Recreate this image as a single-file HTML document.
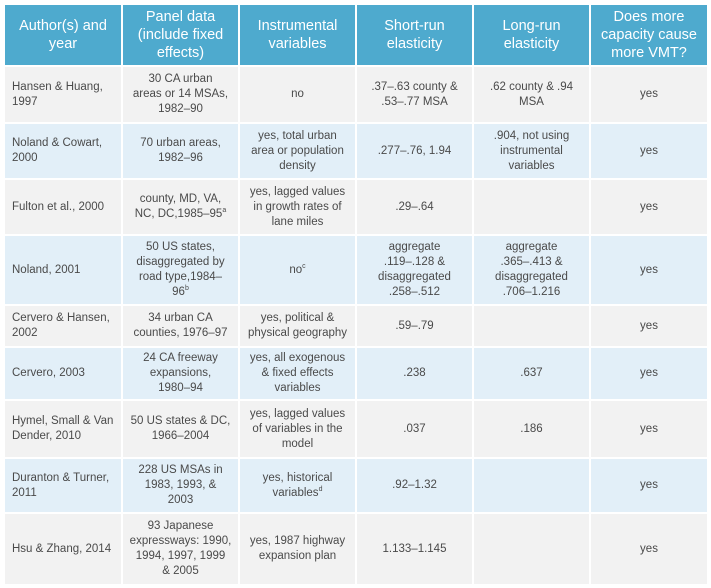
<!DOCTYPE html>
<html><head><style>
body{margin:0;background:#fff;width:711px;height:588px;overflow:hidden;font-family:"Liberation Sans",sans-serif;}
table{position:absolute;left:3px;top:3px;border-collapse:collapse;table-layout:fixed;width:704px;}
td,th{border:2px solid #fff;padding:0 4px;text-align:center;vertical-align:middle;color:#4a4a4a;font-size:11.5px;line-height:15px;font-weight:normal;white-space:nowrap;}
th{background:#4eaace;color:#fff;font-size:14.5px;line-height:18px;}
td.l{text-align:left;padding-left:7px;}
tr.o td{background:#f2f2f2;}
tr.e td{background:#e2eff8;}
sup{font-size:7px;line-height:0;}
</style></head><body>
<table>
<colgroup><col style="width:118px"><col style="width:117px"><col style="width:117px"><col style="width:117px"><col style="width:117px"><col style="width:118px"></colgroup>
<tr style="height:62px"><th>Author(s) and<br>year</th><th>Panel data<br>(include fixed<br>effects)</th><th>Instrumental<br>variables</th><th>Short-run<br>elasticity</th><th>Long-run<br>elasticity</th><th>Does more<br>capacity cause<br>more VMT?</th></tr>
<tr class="o" style="height:57px"><td class="l">Hansen &amp; Huang,<br>1997</td><td>30 CA urban<br>areas or 14 MSAs,<br>1982–90</td><td>no</td><td>.37–.63 county &amp;<br>.53–.77 MSA</td><td>.62 county &amp; .94<br>MSA</td><td>yes</td></tr>
<tr class="e" style="height:56px"><td class="l">Noland &amp; Cowart,<br>2000</td><td>70 urban areas,<br>1982–96</td><td>yes, total urban<br>area or population<br>density</td><td>.277–.76, 1.94</td><td>.904, not using<br>instrumental<br>variables</td><td>yes</td></tr>
<tr class="o" style="height:56px"><td class="l">Fulton et al., 2000</td><td>county, MD, VA,<br>NC, DC,1985–95<sup>a</sup></td><td>yes, lagged values<br>in growth rates of<br>lane miles</td><td>.29–.64</td><td></td><td>yes</td></tr>
<tr class="e" style="height:70px"><td class="l">Noland, 2001</td><td>50 US states,<br>disaggregated by<br>road type,1984–<br>96<sup>b</sup></td><td>no<sup>c</sup></td><td>aggregate<br>.119–.128 &amp;<br>disaggregated<br>.258–.512</td><td>aggregate<br>.365–.413 &amp;<br>disaggregated<br>.706–1.216</td><td>yes</td></tr>
<tr class="o" style="height:42px"><td class="l">Cervero &amp; Hansen,<br>2002</td><td>34 urban CA<br>counties, 1976–97</td><td>yes, political &amp;<br>physical geography</td><td>.59–.79</td><td></td><td>yes</td></tr>
<tr class="e" style="height:53px"><td class="l">Cervero, 2003</td><td>24 CA freeway<br>expansions,<br>1980–94</td><td>yes, all exogenous<br>&amp; fixed effects<br>variables</td><td>.238</td><td>.637</td><td>yes</td></tr>
<tr class="o" style="height:58px"><td class="l">Hymel, Small &amp; Van<br>Dender, 2010</td><td>50 US states &amp; DC,<br>1966–2004</td><td>yes, lagged values<br>of variables in the<br>model</td><td>.037</td><td>.186</td><td>yes</td></tr>
<tr class="e" style="height:55px"><td class="l">Duranton &amp; Turner,<br>2011</td><td>228 US MSAs in<br>1983, 1993, &amp;<br>2003</td><td>yes, historical<br>variables<sup>d</sup></td><td>.92–1.32</td><td></td><td>yes</td></tr>
<tr class="o" style="height:72px"><td class="l">Hsu &amp; Zhang, 2014</td><td>93 Japanese<br>expressways: 1990,<br>1994, 1997, 1999<br>&amp; 2005</td><td>yes, 1987 highway<br>expansion plan</td><td>1.133–1.145</td><td></td><td>yes</td></tr>
</table>
</body></html>
